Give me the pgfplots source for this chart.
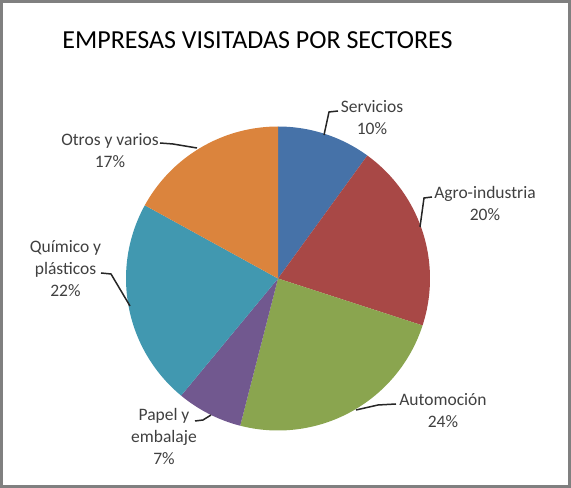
\documentclass[border=0pt]{standalone}
\usepackage{pgfplots}
\pgfplotsset{compat=1.18}
\usepackage{fontspec}
\setmainfont{Carlito}
\definecolor{cServ}{HTML}{4672A8}
\definecolor{cAgro}{HTML}{A84846}
\definecolor{cAuto}{HTML}{8AA54F}
\definecolor{cPap}{HTML}{71588F}
\definecolor{cQui}{HTML}{4198B0}
\definecolor{cOtr}{HTML}{DB843D}
\definecolor{txt}{HTML}{404040}
\definecolor{frame}{HTML}{808080}
\begin{document}
\begin{tikzpicture}
\useasboundingbox (0,0) rectangle (571bp,488bp);
% percentages
\def\pServ{10}\def\pAgro{20}\def\pAuto{24}\def\pPap{7}\def\pQui{22}\def\pOtr{17}
\pgfmathsetmacro{\aA}{90}
\pgfmathsetmacro{\aB}{\aA-3.6*\pServ}
\pgfmathsetmacro{\aC}{\aB-3.6*\pAgro}
\pgfmathsetmacro{\aD}{\aC-3.6*\pAuto}
\pgfmathsetmacro{\aE}{\aD-3.6*\pPap}
\pgfmathsetmacro{\aF}{\aE-3.6*\pQui}
\pgfmathsetmacro{\aG}{\aF-3.6*\pOtr}
\begin{axis}[at={(126bp,57.5bp)}, anchor=south west, scale only axis,
  width=304bp, height=304bp, xmin=-1, xmax=1, ymin=-1, ymax=1,
  hide axis, clip=false]
\addplot[fill=cServ, draw=none, mark=none, domain=\aB:\aA, samples=40, variable=\t] ({cos(t)},{sin(t)}) -- (axis cs:0,0) -- cycle;
\addplot[fill=cAgro, draw=none, mark=none, domain=\aC:\aB, samples=60, variable=\t] ({cos(t)},{sin(t)}) -- (axis cs:0,0) -- cycle;
\addplot[fill=cAuto, draw=none, mark=none, domain=\aD:\aC, samples=70, variable=\t] ({cos(t)},{sin(t)}) -- (axis cs:0,0) -- cycle;
\addplot[fill=cPap, draw=none, mark=none, domain=\aE:\aD, samples=30, variable=\t] ({cos(t)},{sin(t)}) -- (axis cs:0,0) -- cycle;
\addplot[fill=cQui, draw=none, mark=none, domain=\aF:\aE, samples=60, variable=\t] ({cos(t)},{sin(t)}) -- (axis cs:0,0) -- cycle;
\addplot[fill=cOtr, draw=none, mark=none, domain=\aG:\aF, samples=50, variable=\t] ({cos(t)},{sin(t)}) -- (axis cs:0,0) -- cycle;
\end{axis}
\begin{scope}[x=1bp,y=-1bp,yshift=488bp]
\draw[frame, line width=3bp] (1.5,1.5) rectangle (569.5,486.5);
\node[font=\fontsize{26bp}{30bp}\selectfont, text=black] at (257.5,40) {EMPRESAS VISITADAS POR SECTORES};
\tikzset{lbl/.style={font=\fontsize{17.5bp}{22bp}\selectfont, text=txt, align=center, inner sep=0pt}}
\tikzset{ld/.style={draw=black!85, line width=1.5bp}}
\node[lbl] at (372,118) {Servicios\\10\%};
\node[lbl] at (485,204) {Agro-industria\\20\%};
\node[lbl] at (443,410.5) {Automoción\\24\%};
\node[lbl] at (164,437) {Papel y\\embalaje\\7\%};
\node[lbl] at (65.5,269) {Químico y\\plásticos\\22\%};
\node[lbl] at (110,151) {Otros y varios\\17\%};
\draw[ld] (324,135) -- (329,112) -- (338,111);
\draw[ld] (420,227) -- (424,198) -- (432,197);
\draw[ld] (356,410) -- (378,405) -- (396,404);
\draw[ld] (211,415) -- (203,420) -- (195,421);
\draw[ld] (130,306) -- (111,274) -- (101,273);
\draw[ld] (197,148) -- (173,144) -- (160,143);
\end{scope}
\end{tikzpicture}
\end{document}
